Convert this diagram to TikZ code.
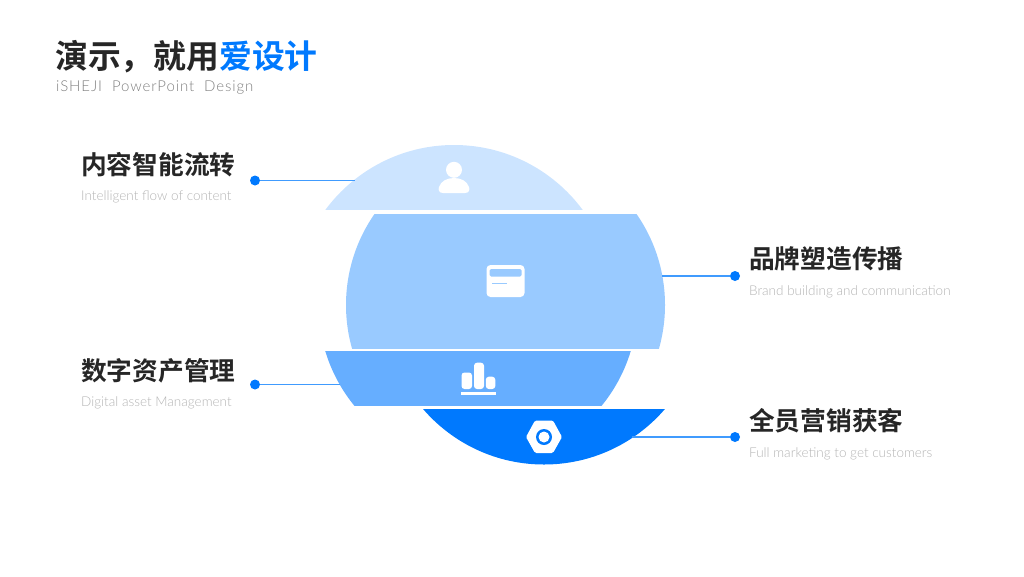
\documentclass[tikz,border=0pt]{standalone}
\usepackage{fontspec}
\newfontfamily\cjkbold[BoldFont={Noto Sans CJK SC Bold}]{Noto Sans CJK SC}
\newfontfamily\latinfont{Lato Light}
\newfontfamily\spacedfont[LetterSpace=6]{Lato Light}
\usetikzlibrary{positioning}
\definecolor{titleblack}{HTML}{262626}
\definecolor{blueA}{HTML}{CCE4FF}
\definecolor{blueB}{HTML}{99CAFF}
\definecolor{blueC}{HTML}{66AEFF}
\definecolor{blueD}{HTML}{0079FE}
\definecolor{subgray}{HTML}{B4B4B4}
\tikzset{
  heading/.style={anchor=west,inner sep=0pt,text=titleblack,font=\fontsize{25.7}{28}\selectfont\cjkbold\bfseries},
  caption/.style={anchor=west,inner sep=0pt,text=subgray,font=\fontsize{13.5}{16}\selectfont\latinfont},
  dot/.style={circle,fill=blueD,inner sep=0pt,minimum size=10pt},
  link/.style={blueD!75,line width=1.2pt},
  icon/.style={fill=white,draw=none}
}
\begin{document}
\begin{tikzpicture}[x=1pt,y=-1pt]
\useasboundingbox (0,0) rectangle (1024,576);
% title
\node[anchor=west,inner sep=0pt,text=titleblack,font=\fontsize{32.8}{36}\selectfont\cjkbold\bfseries] (title) at (55,56.5) {演示，就用\textcolor{blueD}{爱设计}};
\node[anchor=west,inner sep=0pt,text=black!50,font=\fontsize{15}{18}\selectfont\spacedfont] (subtitle) at (56,87.5) {iSHEJI\ \ PowerPoint\ \ Design};
% slices
\begin{scope}
\clip (300,100) rectangle (700,209.7);
\fill[blueA] (454,305) circle (160);
\end{scope}
\begin{scope}
\clip (300,214) rectangle (700,348);
\fill[blueB] (505.5,305) circle (159.5);
\end{scope}
\begin{scope}
\clip (300,351) rectangle (700,405);
\fill[blueC] (478,305) circle (159.5);
\end{scope}
\begin{scope}
\clip (300,409.5) rectangle (700,500);
\fill[blueD] (544,305) circle (159.5);
\end{scope}
% left and right labels
\node[heading] (flow) at (81,164.5) {内容智能流转};
\node[caption] (flowsub) at (81,196.5) {Intelligent flow of content};
\node[heading] (brand) at (749,258.5) {品牌塑造传播};
\node[caption] (brandsub) at (749,291.5) {Brand building and communication};
\node[heading] (asset) at (81,370.5) {数字资产管理};
\node[caption] (assetsub) at (81,402.5) {Digital asset Management};
\node[heading] (market) at (749,420.5) {全员营销获客};
\node[caption] (marketsub) at (749,453.5) {Full marketing to get customers};
% connectors
\node[dot] (dotA) at (255,180.5) {};
\node[dot] (dotB) at (735,276) {};
\node[dot] (dotC) at (255,384.5) {};
\node[dot] (dotD) at (735,437) {};
\coordinate (endA) at (355,180.5);
\coordinate (endB) at (662,276);
\coordinate (endC) at (340,384.5);
\coordinate (endD) at (632,437);
\draw[link] (dotA) -- (endA);
\draw[link] (dotB) -- (endB);
\draw[link] (dotC) -- (endC);
\draw[link] (dotD) -- (endD);
% icons
\fill[icon] (454,169.8) circle (8);
\fill[icon] (443,193) .. controls (439,193) and (438,190) .. (439,187) .. controls (441,181) and (447,178) .. (454,178) .. controls (461,178) and (467,181) .. (469,187) .. controls (470,190) and (469,193) .. (465,193) -- cycle;
\fill[icon,rounded corners=4pt] (486.5,265) rectangle (524.5,297);
\fill[blueB,rounded corners=1.5pt] (489.5,269) rectangle (521.5,276.5);
\draw[blueB,line width=1.3pt] (492,283.3) -- (507,283.3);
\fill[icon,rounded corners=3pt] (461.5,372.5) rectangle (472,389);
\fill[icon,rounded corners=3pt] (474,362.7) rectangle (484,389);
\fill[icon,rounded corners=3pt] (485.8,376.7) rectangle (495.3,389);
\fill[icon] (460.5,392) rectangle (496,394.5);
\fill[icon,rounded corners=1.5pt] (526,437) -- (535,420.5) -- (553,420.5) -- (562,437) -- (553,453) -- (535,453) -- cycle;
\fill[blueD] (544,437) circle (8);
\fill[icon] (544,437) circle (5.5);
\end{tikzpicture}
\end{document}
